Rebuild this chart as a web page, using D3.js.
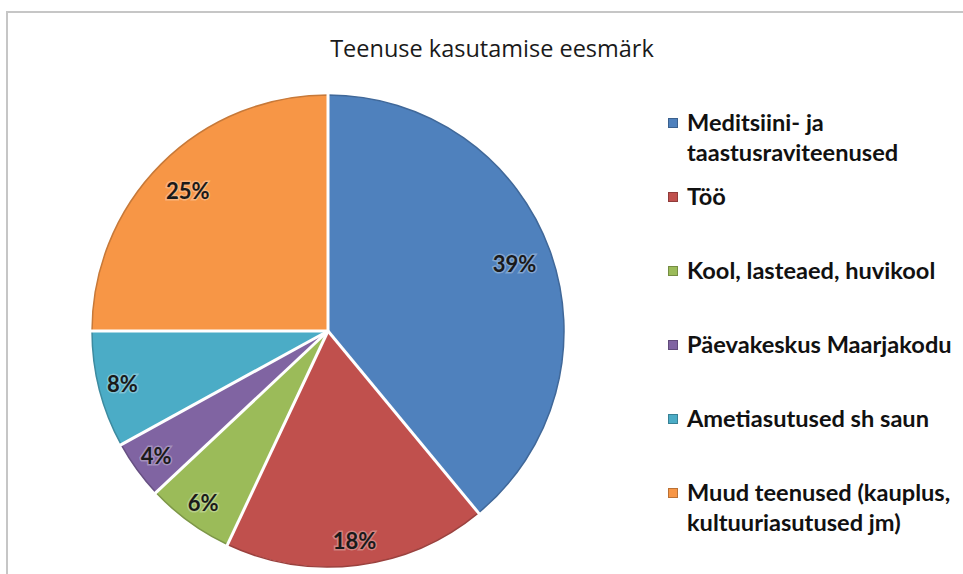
<!DOCTYPE html>
<html>
<head>
<meta charset="utf-8">
<script src="https://cdn.jsdelivr.net/npm/d3@7"></script>
<style>
  body { margin: 0; background: #fff; }
  svg { display: block; font-family: Lato, "Open Sans", sans-serif; }
</style>
</head>
<body>
<svg id="chart" width="963" height="574"></svg>
<script>
// data
var categories = [
  ["Meditsiini- ja", "taastusraviteenused"],
  ["Töö"],
  ["Kool, lasteaed, huvikool"],
  ["Päevakeskus Maarjakodu"],
  ["Ametiasutused sh saun"],
  ["Muud teenused (kauplus,", "kultuuriasutused jm)"]
];
var values = [39, 18, 6, 4, 8, 25];
var colors = ["#4F81BD", "#C0504D", "#9BBB59", "#8064A2", "#4BACC6", "#F79646"];

var svg = d3.select("#chart"),
    WIDTH = 963,
    HEIGHT = 574,
    cx = 328,
    cy = 331,
    R = 236;

// frame
svg.append("path")
    .attr("d", "M7," + (HEIGHT + 5) + "V12H" + (WIDTH + 5))
    .attr("fill", "none")
    .attr("stroke", "#c6c6c6")
    .attr("stroke-width", 2);

// title
svg.append("text")
    .attr("x", 492)
    .attr("y", 57)
    .attr("text-anchor", "middle")
    .attr("font-family", "'Open Sans', sans-serif")
    .attr("font-size", 23.5)
    .attr("fill", "#1a1a1a")
    .text("Teenuse kasutamise eesmärk");

var pie = d3.pie().sort(null).value(function(d) { return d; });
var arcs = pie(values);

var arc = d3.arc().innerRadius(0).outerRadius(R);

var g = svg.append("g").attr("transform", "translate(" + cx + "," + cy + ")");

g.selectAll("path.slice")
    .data(arcs)
  .enter().append("path")
    .attr("class", "slice")
    .attr("d", arc)
    .attr("fill", function(d, i) { return colors[i]; })
    .attr("stroke", function(d, i) { return d3.color(colors[i]).darker(0.6); })
    .attr("stroke-width", 1.5);

// white separators
g.selectAll("path.sep")
    .data(arcs)
  .enter().append("path")
    .attr("class", "sep")
    .attr("d", function(d) {
      var a = d.startAngle;
      return "M0,0L" + (Math.sin(a) * (R + 2)) + "," + (-Math.cos(a) * (R + 2));
    })
    .attr("stroke", "#fff")
    .attr("stroke-width", 3);

// labels
g.selectAll("text.lbl")
    .data(arcs)
  .enter().append("text")
    .attr("class", "lbl")
    .attr("transform", function(d) {
      var r = d.data >= 20 ? R * 0.84 : R * 0.9;
      var la = d3.arc().innerRadius(r).outerRadius(r);
      return "translate(" + la.centroid(d) + ")";
    })
    .attr("dy", "0.35em")
    .attr("text-anchor", "middle")
    .attr("font-size", 22)
    .attr("font-weight", "bold")
    .attr("fill", "#1a1a1a")
    .attr("stroke", "rgba(255,255,255,0.3)")
    .attr("stroke-width", 3)
    .attr("paint-order", "stroke")
    .text(function(d) { return d.data + "%"; });

// legend
var ly = d3.scalePoint().domain(d3.range(categories.length)).range([123, 493]);

var leg = svg.selectAll("g.leg")
    .data(categories)
  .enter().append("g")
    .attr("class", "leg")
    .attr("transform", function(d, i) { return "translate(668," + ly(i) + ")"; });

leg.append("rect")
    .attr("x", 0.5)
    .attr("y", -4.5)
    .attr("width", 9)
    .attr("height", 9)
    .attr("fill", function(d, i) { return colors[i]; })
    .attr("stroke", function(d, i) { return d3.color(colors[i]).darker(0.8); })
    .attr("stroke-width", 1);

leg.selectAll("text")
    .data(function(d) { return d; })
  .enter().append("text")
    .attr("x", 19)
    .attr("y", function(d, j) { return 8 + j * 30; })
    .attr("font-size", 23.6)
    .attr("font-weight", "bold")
    .attr("fill", "#111")
    .text(function(d) { return d; });
</script>
</body>
</html>
